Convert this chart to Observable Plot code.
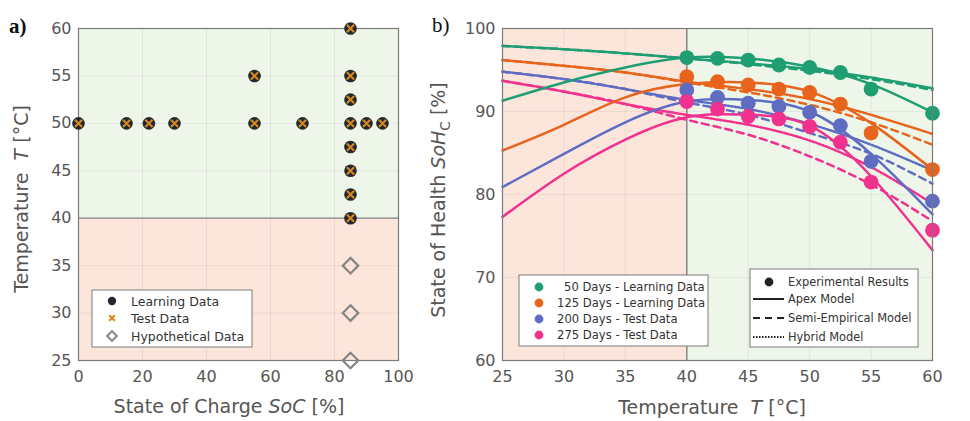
<!DOCTYPE html>
<html><head><meta charset="utf-8">
<script src="https://cdn.jsdelivr.net/npm/d3@7"></script>
<script src="https://cdn.jsdelivr.net/npm/@observablehq/plot@0.6"></script>
<style>
html,body{margin:0;padding:0;background:#fff;}
#fig{position:relative;width:970px;height:421px;overflow:hidden;background:#fff;}
#fig svg{position:absolute;top:0;}
</style></head><body><div id="fig"></div>
<script>
// ---------- Panel a data ----------
const socPts = [0, 15, 22, 30, 55, 55, 70, 85, 85, 85, 85, 90, 95, 85, 85, 85, 85];
const tempPts = [50, 50, 50, 50, 55, 50, 50, 60, 55, 52.5, 50, 50, 50, 47.5, 45, 42.5, 40];
const socHypo = [85, 85, 85];
const tempHypo = [35, 30, 25];
const xTicksA = [0, 20, 40, 60, 80, 100];
const yTicksA = [25, 30, 35, 40, 45, 50, 55, 60];
const regionBoundsA = [25, 40, 60];
const legendA = ["Learning Data", "Test Data", "Hypothetical Data"];

// ---------- Panel b data ----------
const tempExp = [40, 42.5, 45, 47.5, 50, 52.5, 55, 60];
const exp50 = [96.5, 96.4, 96.2, 95.6, 95.3, 94.7, 92.7, 89.8];
const exp125 = [94.2, 93.6, 93.2, 92.7, 92.3, 90.9, 87.4, 83.0];
const exp200 = [92.6, 91.7, 91.0, 90.6, 89.9, 88.3, 84.0, 79.2];
const exp275 = [91.2, 90.3, 89.4, 89.1, 88.2, 86.3, 81.5, 75.7];

const tempModel = [25, 30, 35, 40, 45, 50, 55, 60];
const apex50 = [91.3, 93.5, 95.3, 96.5, 96.4, 95.4, 93.3, 89.9];
const apex125 = [85.3, 88.4, 91.7, 93.3, 93.5, 92.4, 88.6, 83.0];
const apex200 = [80.9, 84.9, 88.7, 91.2, 91.4, 90.0, 84.9, 77.6];
const apex275 = [77.3, 82.5, 86.6, 89.3, 89.6, 88.3, 82.2, 73.3];

const semi50 = [97.9, 97.5, 97.0, 96.4, 95.7, 94.9, 93.9, 92.6];
const semi125 = [96.2, 95.5, 94.7, 93.5, 92.3, 90.8, 88.7, 86.0];
const semi200 = [94.8, 93.9, 92.7, 91.1, 89.6, 87.4, 84.9, 81.3];
const semi275 = [93.7, 92.4, 90.9, 89.0, 87.2, 84.6, 81.2, 76.8];

const hyb50 = [97.9, 97.5, 97.0, 96.4, 95.8, 95.1, 94.1, 92.8];
const hyb125 = [96.2, 95.5, 94.7, 93.6, 92.7, 91.5, 89.6, 87.3];
const hyb200 = [94.8, 93.9, 92.7, 91.4, 90.3, 88.5, 86.0, 82.9];
const hyb275 = [93.7, 92.4, 90.9, 89.6, 88.4, 86.5, 83.3, 78.9];

const seriesNames = ["50 Days - Learning Data", "125 Days - Learning Data", "200 Days - Test Data", "275 Days - Test Data"];
const seriesColors = ["#1e9e72", "#e8631c", "#5e6cc2", "#f0318e"];
const xTicksB = [25, 30, 35, 40, 45, 50, 55, 60];
const yTicksB = [60, 70, 80, 90, 100];
const regionBoundsB = [25, 40, 60];
const legendB = ["Experimental Results", "Apex Model", "Semi-Empirical Model", "Hybrid Model"];

const RED = "#fce6dc", GREEN = "#eef6e9";
const FONT = "DejaVu Sans, sans-serif";
const TXT = "#555";

const fig = document.getElementById("fig");

// ===== Panel a =====
const ptsA = socPts.map((s, i) => ({soc: s, t: tempPts[i]}));
const hypoA = socHypo.map((s, i) => ({soc: s, t: tempHypo[i]}));
const regA = [
  {y1: regionBoundsA[0], y2: regionBoundsA[1], fill: RED},
  {y1: regionBoundsA[1], y2: regionBoundsA[2], fill: GREEN}
];
const plotA = Plot.plot({
  width: 420, height: 421,
  marginLeft: 78, marginRight: 22, marginTop: 28, marginBottom: 61,
  style: {fontFamily: FONT, fontSize: "16px", color: TXT, background: "transparent", overflow: "visible"},
  x: {domain: [0, 100], ticks: xTicksA, tickSize: 0, tickPadding: 10, label: null},
  y: {domain: [25, 60], ticks: yTicksA, tickSize: 0, tickPadding: 7, label: null},
  marks: [
    Plot.rect(regA, {x1: () => 0, x2: () => 100, y1: "y1", y2: "y2", fill: "fill"}),
    Plot.gridX(xTicksA, {stroke: "#000", strokeOpacity: 0.06}),
    Plot.gridY(yTicksA, {stroke: "#000", strokeOpacity: 0.06}),
    Plot.ruleY([regionBoundsA[1]], {stroke: "#808080", strokeWidth: 1.2}),
    Plot.frame({stroke: "#7a7a7a", strokeWidth: 1.2}),
    Plot.dot(hypoA, {x: "soc", y: "t", symbol: "diamond2", r: 7, stroke: "#858585", strokeWidth: 2.2, fill: "none"}),
    Plot.dot(ptsA, {x: "soc", y: "t", r: 6.3, fill: "#262630"}),
    Plot.dot(ptsA, {x: "soc", y: "t", symbol: "times", r: 3.4, stroke: "#d08a1e", strokeWidth: 2.1})
  ]
});
fig.appendChild(plotA);
plotA.style.left = "0px";

// ===== Panel b =====
const expSeries = [exp50, exp125, exp200, exp275];
const apexSeries = [apex50, apex125, apex200, apex275];
const semiSeries = [semi50, semi125, semi200, semi275];
const hybSeries = [hyb50, hyb125, hyb200, hyb275];
const toRows = (arrs, xs) => arrs.flatMap((a, k) => a.map((v, i) => ({t: xs[i], soh: v, s: seriesNames[k]})));
const expRows = toRows(expSeries, tempExp);
const apexRows = toRows(apexSeries, tempModel);
const semiRows = toRows(semiSeries, tempModel);
const hybRows = toRows(hybSeries, tempModel);
const regB = [
  {x1: regionBoundsB[0], x2: regionBoundsB[1], fill: RED},
  {x1: regionBoundsB[1], x2: regionBoundsB[2], fill: GREEN}
];
const plotB = Plot.plot({
  width: 550, height: 421,
  marginLeft: 82, marginRight: 38, marginTop: 28, marginBottom: 61,
  style: {fontFamily: FONT, fontSize: "16px", color: TXT, background: "transparent", overflow: "visible"},
  x: {domain: [25, 60], ticks: xTicksB, tickSize: 0, tickPadding: 10, label: null},
  y: {domain: [60, 100], ticks: yTicksB, tickSize: 0, tickPadding: 7, label: null},
  color: {domain: seriesNames, range: seriesColors},
  marks: [
    Plot.rect(regB, {x1: "x1", x2: "x2", y1: () => 60, y2: () => 100, fill: "fill"}),
    Plot.gridX(xTicksB, {stroke: "#000", strokeOpacity: 0.06}),
    Plot.gridY(yTicksB, {stroke: "#000", strokeOpacity: 0.06}),
    Plot.ruleX([regionBoundsB[1]], {stroke: "#808080", strokeWidth: 1.4}),
    Plot.line(semiRows, {x: "t", y: "soh", z: "s", stroke: "s", strokeWidth: 2.5, strokeDasharray: "7,5", curve: "natural"}),
    Plot.line(hybRows, {x: "t", y: "soh", z: "s", stroke: "s", strokeWidth: 2.5, strokeDasharray: "1.6,1.8", curve: "natural"}),
    Plot.line(apexRows, {x: "t", y: "soh", z: "s", stroke: "s", strokeWidth: 2.5, curve: "natural"}),
    Plot.dot(expRows, {x: "t", y: "soh", fill: "s", r: 7.4}),
    Plot.frame({stroke: "#7a7a7a", strokeWidth: 1.2})
  ]
});
fig.appendChild(plotB);
plotB.style.left = "420px";

// ===== Labels and legends =====
function addText(svg, x, y, parts, opts = {}) {
  const t = svg.append("text")
    .attr("x", x).attr("y", y)
    .attr("font-family", opts.family || FONT)
    .attr("font-size", opts.size || 19)
    .attr("fill", opts.fill || TXT)
    .attr("text-anchor", opts.anchor || "middle");
  if (opts.rotate) t.attr("transform", `rotate(-90,${x},${y})`);
  if (opts.weight) t.attr("font-weight", opts.weight);
  parts.forEach(p => {
    const s = t.append("tspan").text(p.text);
    if (p.italic) s.attr("font-style", "italic");
    if (p.sub) s.attr("font-size", (opts.size || 19) * 0.72).attr("dy", 5);
    if (p.up) s.attr("dy", -5);
  });
  return t;
}

const svgA = d3.select(plotA);
addText(svgA, 229, 413, [{text: "State of Charge "}, {text: "SoC", italic: true}, {text: " [%]"}]);
addText(svgA, 28, 199, [{text: "Temperature  "}, {text: "T", italic: true}, {text: " [°C]"}], {rotate: true});
addText(svgA, 9, 33, [{text: "a)"}], {family: "Liberation Serif, serif", size: 21, weight: "bold", fill: "#111", anchor: "start"});

// legend a
const lgA = svgA.append("g");
lgA.append("rect").attr("x", 92).attr("y", 290).attr("width", 160).attr("height", 57)
  .attr("fill", "#fff").attr("stroke", "#7a7a7a").attr("stroke-width", 1);
const rowsA = [301, 318, 336];
lgA.append("circle").attr("cx", 112).attr("cy", rowsA[0]).attr("r", 4.2).attr("fill", "#262630");
lgA.append("path").attr("d", d3.symbol(d3.symbolTimes, 22)()).attr("transform", `translate(112,${rowsA[1]})`)
  .attr("stroke", "#d08a1e").attr("stroke-width", 2.2).attr("fill", "none");
lgA.append("path").attr("d", d3.symbol(d3.symbolDiamond2, 60)()).attr("transform", `translate(112,${rowsA[2]})`)
  .attr("stroke", "#858585").attr("stroke-width", 2).attr("fill", "none");
legendA.forEach((l, i) => addText(lgA, 131, rowsA[i] + 4.5, [{text: l}], {size: 12.5, anchor: "start", fill: "#333"}));

const svgB = d3.select(plotB);
addText(svgB, 292, 414, [{text: "Temperature  "}, {text: "T", italic: true}, {text: " [°C]"}]);
addText(svgB, 25, 200, [{text: "State of Health "}, {text: "SoH", italic: true}, {text: "C", sub: true}, {text: " [%]", up: true}], {rotate: true});
addText(svgB, 12, 32, [{text: "b)"}], {family: "Liberation Serif, serif", size: 21, fill: "#111", anchor: "start"});

// legend b1 (colors)
const lgB1 = svgB.append("g");
lgB1.append("rect").attr("x", 99).attr("y", 275).attr("width", 189).attr("height", 71)
  .attr("fill", "#fff").attr("stroke", "#7a7a7a").attr("stroke-width", 1);
const rowsB1 = [287, 303, 319, 335];
const startB1 = [144, 137, 137, 137];
seriesNames.forEach((n, i) => {
  lgB1.append("circle").attr("cx", 119).attr("cy", rowsB1[i]).attr("r", 4.4).attr("fill", seriesColors[i]);
  addText(lgB1, startB1[i], rowsB1[i] + 4, [{text: n}], {size: 11.6, anchor: "start", fill: "#333"});
});

// legend b2 (line styles)
const lgB2 = svgB.append("g");
lgB2.append("rect").attr("x", 330).attr("y", 269).attr("width", 168).attr("height", 78)
  .attr("fill", "#fff").attr("stroke", "#7a7a7a").attr("stroke-width", 1);
const rowsB2 = [282, 299, 318, 337];
lgB2.append("circle").attr("cx", 349).attr("cy", rowsB2[0]).attr("r", 4.4).attr("fill", "#222");
const dashes = [null, "7,5", "1.5,1.5"];
dashes.forEach((d, i) => {
  const ln = lgB2.append("line").attr("x1", 333).attr("x2", 364).attr("y1", rowsB2[i + 1]).attr("y2", rowsB2[i + 1])
    .attr("stroke", "#222").attr("stroke-width", 2);
  if (d) ln.attr("stroke-dasharray", d);
});
legendB.forEach((l, i) => addText(lgB2, 368, rowsB2[i] + 4, [{text: l}], {size: 11.4, anchor: "start", fill: "#333"}));
</script>
</body></html>
